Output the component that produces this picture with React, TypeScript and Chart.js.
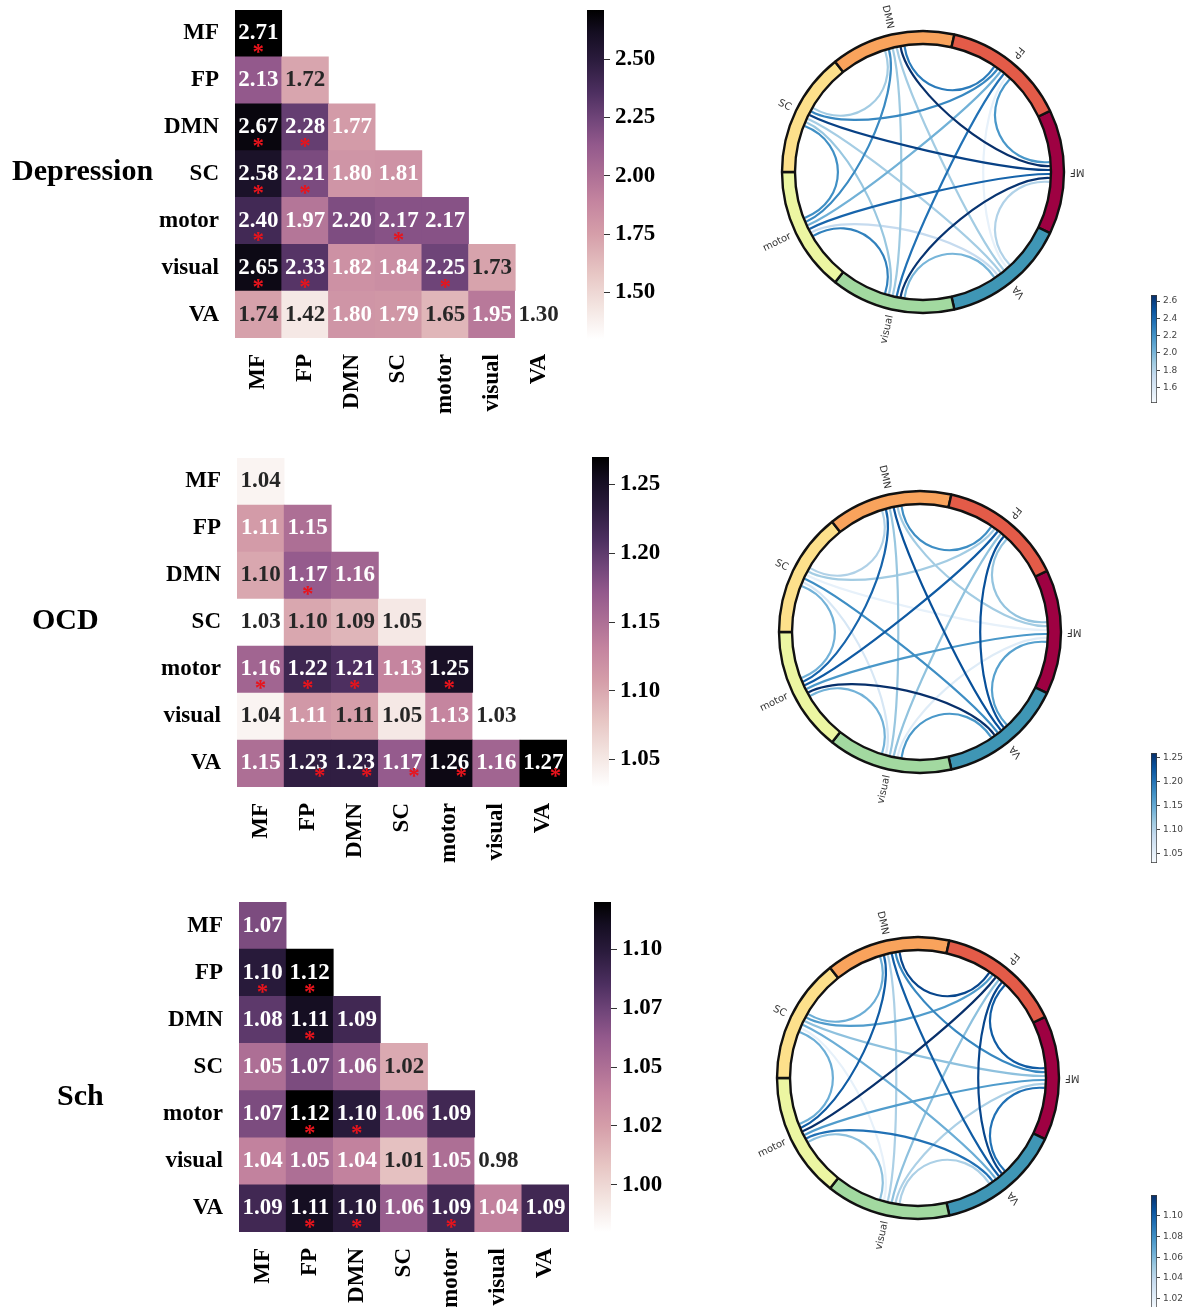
import React, { useEffect, useRef } from 'react';
import { Chart, registerables } from 'chart.js';

Chart.register(...registerables);

// ---------------- data ----------------
const networks = ['MF', 'FP', 'DMN', 'SC', 'motor', 'visual', 'VA'];
const groupTitles = ['Depression', 'OCD', 'Sch'];

const depressionValues = [
  [2.71],
  [2.13, 1.72],
  [2.67, 2.28, 1.77],
  [2.58, 2.21, 1.80, 1.81],
  [2.40, 1.97, 2.20, 2.17, 2.17],
  [2.65, 2.33, 1.82, 1.84, 2.25, 1.73],
  [1.74, 1.42, 1.80, 1.79, 1.65, 1.95, 1.30],
];
const depressionSignificant = [
  [1],
  [0, 0],
  [1, 1, 0],
  [1, 1, 0, 0],
  [1, 0, 0, 1, 0],
  [1, 1, 0, 0, 1, 0],
  [0, 0, 0, 0, 0, 0, 0],
];

const ocdValues = [
  [1.04],
  [1.11, 1.15],
  [1.10, 1.17, 1.16],
  [1.03, 1.10, 1.09, 1.05],
  [1.16, 1.22, 1.21, 1.13, 1.25],
  [1.04, 1.112, 1.107, 1.05, 1.13, 1.03],
  [1.15, 1.23, 1.23, 1.17, 1.26, 1.16, 1.27],
];
const ocdSignificant = [
  [0],
  [0, 0],
  [0, 1, 0],
  [0, 0, 0, 0],
  [1, 1, 1, 0, 1],
  [0, 0, 0, 0, 0, 0],
  [0, 1, 1, 1, 1, 0, 1],
];

const schValues = [
  [1.07],
  [1.10, 1.12],
  [1.08, 1.11, 1.09],
  [1.05, 1.07, 1.06, 1.02],
  [1.07, 1.12, 1.10, 1.06, 1.09],
  [1.04, 1.05, 1.04, 1.01, 1.05, 0.98],
  [1.09, 1.11, 1.10, 1.06, 1.09, 1.04, 1.09],
];
const schSignificant = [
  [0],
  [1, 1],
  [0, 1, 0],
  [0, 0, 0, 0],
  [0, 1, 1, 0, 0],
  [0, 0, 0, 0, 0, 0],
  [0, 1, 1, 0, 1, 0, 0],
];

const depressionHeatTicks = [1.5, 1.75, 2.0, 2.25, 2.5];
const depressionHeatTickLabels = ['1.50', '1.75', '2.00', '2.25', '2.50'];
const ocdHeatTicks = [1.05, 1.1, 1.15, 1.2, 1.25];
const ocdHeatTickLabels = ['1.05', '1.10', '1.15', '1.20', '1.25'];
const schHeatTicks = [1.0, 1.025, 1.05, 1.075, 1.1];
const schHeatTickLabels = ['1.00', '1.02', '1.05', '1.07', '1.10'];

const depressionChordTicks = [1.6, 1.8, 2.0, 2.2, 2.4, 2.6];
const depressionChordTickLabels = ['1.6', '1.8', '2.0', '2.2', '2.4', '2.6'];
const ocdChordTicks = [1.05, 1.1, 1.15, 1.2, 1.25];
const ocdChordTickLabels = ['1.05', '1.10', '1.15', '1.20', '1.25'];
const schChordTicks = [1.02, 1.04, 1.06, 1.08, 1.1];
const schChordTickLabels = ['1.02', '1.04', '1.06', '1.08', '1.10'];

// ---------------- styles ----------------
const serif = '"Liberation Serif", "Times New Roman", serif';
const sans = '"DejaVu Sans", sans-serif';
const networkColors = ['#9e0142', '#e35b48', '#f9a35c', '#fde08b', '#ecf6a2', '#a2d9a0', '#3f96b5'];

const heatStops: [number, string][] = [
  [0, '#ffffff'], [0.1, '#f3e4e0'], [0.2, '#e7c6c4'], [0.32, '#d59ea9'], [0.42, '#c4849f'],
  [0.5, '#ad6f95'], [0.59, '#93598c'], [0.67, '#704579'], [0.75, '#4d2f60'], [0.85, '#2a1b3c'],
  [0.93, '#150e22'], [1, '#000000'],
];
const bluesStops: [number, string][] = [
  [0, '#f7fbff'], [0.125, '#deebf7'], [0.25, '#c6dbef'], [0.375, '#9ecae1'], [0.5, '#6baed6'],
  [0.625, '#4292c6'], [0.75, '#2171b5'], [0.875, '#08519c'], [1, '#08306b'],
];

function hexRgb(h: string) {
  const n = parseInt(h.slice(1), 16);
  return [(n >> 16) & 255, (n >> 8) & 255, n & 255];
}
function sample(stops: [number, string][], t: number) {
  const x = Math.max(0, Math.min(1, t));
  for (let i = 1; i < stops.length; i++) {
    if (x <= stops[i][0]) {
      const [t0, c0] = stops[i - 1];
      const [t1, c1] = stops[i];
      const f = (x - t0) / (t1 - t0);
      const a = hexRgb(c0), b = hexRgb(c1);
      return `rgb(${Math.round(a[0] + (b[0] - a[0]) * f)},${Math.round(a[1] + (b[1] - a[1]) * f)},${Math.round(a[2] + (b[2] - a[2]) * f)})`;
    }
  }
  return stops[stops.length - 1][1];
}

function rangeOf(values: number[][], offDiagonal: boolean) {
  let mn = Infinity, mx = -Infinity;
  values.forEach((row, r) => row.forEach((v, c) => {
    if (offDiagonal && r === c) return;
    mn = Math.min(mn, v); mx = Math.max(mx, v);
  }));
  return [mn, mx];
}

function zeroPad(s: any) {
  s.paddingTop = 0; s.paddingBottom = 0; s.paddingLeft = 0; s.paddingRight = 0;
}

// ---------------- chart builders ----------------
function heatmapConfig(p: any) {
  const { values, significant, title, titleX, titleY, gridLeft, gridRight, gridTop, gridBottom, canvasTop, canvasWidth, canvasHeight, lastRowStar } = p;
  const cells: any[] = [];
  values.forEach((row: number[], r: number) => row.forEach((v, c) => cells.push({ r, c, v, sig: significant[r][c] === 1 })));
  const [vmin, vmax] = rangeOf(values, false);
  const frac = (v: number) => (v - vmin) / (vmax - vmin);
  const annotate = {
    id: 'annot',
    afterDatasetsDraw(chart: any) {
      const ctx = chart.ctx;
      const meta = chart.getDatasetMeta(0);
      ctx.save();
      ctx.textAlign = 'center';
      ctx.textBaseline = 'middle';
      meta.data.forEach((el: any, i: number) => {
        const cell = cells[i];
        const cx = el.x;
        const cy = (el.y + el.base) / 2;
        ctx.font = `bold 23px ${serif}`;
        ctx.fillStyle = frac(cell.v) > 0.325 ? '#ffffff' : '#262626';
        ctx.fillText(cell.v.toFixed(2), cx, cy);
        if (cell.sig) {
          const last = cell.r === networks.length - 1 && lastRowStar;
          ctx.fillStyle = '#e8141c';
          ctx.font = `bold 23px ${serif}`;
          ctx.fillText('*', cx + (last ? lastRowStar.dx : 0), cy + (last ? lastRowStar.dy : 20));
        }
      });
      ctx.restore();
    },
  };
  const titlePlugin = {
    id: 'groupTitle',
    afterDraw(chart: any) {
      const ctx = chart.ctx;
      ctx.save();
      ctx.font = `bold 30px ${serif}`;
      ctx.fillStyle = '#000';
      ctx.textAlign = 'left';
      ctx.textBaseline = 'middle';
      ctx.fillText(title, titleX, titleY - canvasTop);
      ctx.restore();
    },
  };
  const tickFont = { family: serif, size: 23, weight: 'bold' as const };
  return {
    type: 'bar',
    data: {
      labels: networks,
      datasets: [{
        data: cells.map((c) => ({ x: networks[c.c], y: [c.r - 0.5, c.r + 0.5] })),
        backgroundColor: cells.map((c) => sample(heatStops, frac(c.v))),
        borderWidth: 0,
        barPercentage: 1,
        categoryPercentage: 1,
        grouped: false,
      }],
    },
    options: {
      responsive: false,
      animation: false,
      layout: { padding: { left: 0, right: canvasWidth - gridRight, top: gridTop - canvasTop, bottom: 0 } },
      plugins: { legend: { display: false }, tooltip: { enabled: false } },
      scales: {
        x: {
          type: 'category',
          offset: true,
          grid: { display: false, drawTicks: false },
          border: { display: false },
          ticks: { autoSkip: false, minRotation: 90, maxRotation: 90, padding: 16, color: '#000', font: tickFont },
          afterFit: (s: any) => { s.height = canvasHeight - (gridBottom - canvasTop); zeroPad(s); },
        },
        y: {
          type: 'linear',
          reverse: true,
          min: -0.5,
          max: 6.5,
          grid: { display: false, drawTicks: false },
          border: { display: false },
          afterBuildTicks: (s: any) => { s.ticks = networks.map((_, i) => ({ value: i })); },
          ticks: { autoSkip: false, padding: 16, color: '#000', font: tickFont, callback: (v: any) => networks[v] ?? '' },
          afterFit: (s: any) => { s.width = gridLeft; zeroPad(s); },
        },
      },
    },
    plugins: [annotate, titlePlugin],
  };
}

function colorbarConfig(p: any) {
  const { vmin, vmax, ticks, tickLabels, stops, canvasWidth, barWidth, font, color, tickLength, tickPadding, outline, tickColor } = p;
  return {
    type: 'bar',
    data: {
      labels: [''],
      datasets: [{
        data: [[vmin, vmax]],
        backgroundColor: (ctx: any) => {
          const chart = ctx.chart;
          const y = chart.scales.y;
          if (!chart.chartArea || !y) return 'transparent';
          const top = y.getPixelForValue(vmax);
          const bottom = y.getPixelForValue(vmin);
          const g = chart.ctx.createLinearGradient(0, bottom, 0, top);
          stops.forEach(([t, c]: [number, string]) => g.addColorStop(t, c));
          return g;
        },
        borderColor: '#3a3a3a',
        borderWidth: outline ? 1 : 0,
        borderSkipped: false,
        barPercentage: 1,
        categoryPercentage: 1,
      }],
    },
    options: {
      responsive: false,
      animation: false,
      layout: { padding: { left: 5, right: 0, top: 10, bottom: 10 } },
      plugins: { legend: { display: false }, tooltip: { enabled: false } },
      scales: {
        x: { display: false },
        y: {
          position: 'right',
          min: vmin,
          max: vmax,
          afterBuildTicks: (s: any) => { s.ticks = ticks.map((v: number) => ({ value: v })); },
          afterFit: (s: any) => { s.width = canvasWidth - 5 - barWidth; zeroPad(s); },
          grid: { drawOnChartArea: false, drawTicks: true, tickLength, color: tickColor, lineWidth: 1 },
          border: { display: false },
          ticks: { autoSkip: false, padding: tickPadding, color, font, callback: (_v: any, i: number) => tickLabels[i] },
        },
      },
    },
  };
}

function chordConfig(p: any) {
  const { values, outerR, innerR } = p;
  const n = networks.length;
  const [cmin, cmax] = rangeOf(values, true);
  const chords: any[] = [];
  values.forEach((row: number[], r: number) => row.forEach((v, c) => { if (r !== c) chords.push({ a: r, b: c, v }); }));
  chords.sort((x, y) => x.v - y.v);
  const ringOrder = [0, 6, 5, 4, 3, 2, 1];
  const seg = 360 / n;
  const spread = 1.8;
  const ctrl = 0.62;
  const endAngle = (node: number, other: number) => {
    const k = (((other - node) % n) + n) % n;
    return ((node * seg + (3.5 - k) * spread) * Math.PI) / 180;
  };
  const plugin = {
    id: 'chords',
    beforeDatasetsDraw(chart: any) {
      const arc = chart.getDatasetMeta(0).data[0];
      const cx = arc.x, cy = arc.y, rIn = arc.innerRadius;
      const ctx = chart.ctx;
      const pt = (t: number, r: number) => [cx + r * Math.cos(t), cy - r * Math.sin(t)];
      ctx.save();
      ctx.lineWidth = 2.2;
      chords.forEach((ch) => {
        const ta = endAngle(ch.a, ch.b), tb = endAngle(ch.b, ch.a);
        const A = pt(ta, rIn - 1), B = pt(tb, rIn - 1), C1 = pt(ta, rIn * ctrl), C2 = pt(tb, rIn * ctrl);
        ctx.strokeStyle = sample(bluesStops, 0.08 + 0.92 * (ch.v - cmin) / (cmax - cmin));
        ctx.beginPath();
        ctx.moveTo(A[0], A[1]);
        ctx.bezierCurveTo(C1[0], C1[1], C2[0], C2[1], B[0], B[1]);
        ctx.stroke();
      });
      ctx.restore();
    },
    afterDraw(chart: any) {
      const arc = chart.getDatasetMeta(0).data[0];
      const cx = arc.x, cy = arc.y, rOut = arc.outerRadius;
      const ctx = chart.ctx;
      ctx.save();
      ctx.font = `10px ${sans}`;
      ctx.fillStyle = '#333';
      ctx.textAlign = 'right';
      ctx.textBaseline = 'middle';
      networks.forEach((name, i) => {
        const t = (i * seg * Math.PI) / 180;
        const x = cx + (rOut + 6) * Math.cos(t);
        const y = cy - (rOut + 6) * Math.sin(t);
        ctx.save();
        ctx.translate(x, y);
        ctx.rotate(Math.atan2(Math.sin(t), -Math.cos(t)));
        ctx.fillText(name, 0, 0);
        ctx.restore();
      });
      ctx.restore();
    },
  };
  return {
    type: 'doughnut',
    data: {
      labels: ringOrder.map((i) => networks[i]),
      datasets: [{
        data: ringOrder.map(() => 1),
        backgroundColor: ringOrder.map((i) => networkColors[i]),
        borderColor: '#111',
        borderWidth: 2.4,
        hoverOffset: 0,
      }],
    },
    options: {
      responsive: false,
      animation: false,
      rotation: 90 - 180 / n,
      radius: outerR,
      cutout: `${(innerR / outerR) * 100}%`,
      layout: { padding: 0 },
      plugins: { legend: { display: false }, tooltip: { enabled: false } },
    },
    plugins: [plugin],
  };
}

// ---------------- components ----------------
function ChartCanvas({ left, top, width, height, build }: any) {
  const ref = useRef<HTMLCanvasElement>(null);
  useEffect(() => {
    const chart = new Chart(ref.current as HTMLCanvasElement, build());
    return () => chart.destroy();
  }, []);
  return <canvas ref={ref} width={width} height={height} style={{ position: 'absolute', left, top, width, height }} />;
}

const groups = [
  {
    title: groupTitles[0], values: depressionValues, significant: depressionSignificant,
    heatTicks: depressionHeatTicks, heatTickLabels: depressionHeatTickLabels,
    chordTicks: depressionChordTicks, chordTickLabels: depressionChordTickLabels,
    layout: { titleX: 12, titleY: 172, gridLeft: 235, gridRight: 562, gridTop: 10, gridBottom: 338,
      cbLeft: 587, cbTop: 10, cbBottom: 339, cx: 923, cy: 172, ccTop: 295, ccBottom: 403, lastRowStar: null },
  },
  {
    title: groupTitles[1], values: ocdValues, significant: ocdSignificant,
    heatTicks: ocdHeatTicks, heatTickLabels: ocdHeatTickLabels,
    chordTicks: ocdChordTicks, chordTickLabels: ocdChordTickLabels,
    layout: { titleX: 32, titleY: 621, gridLeft: 237, gridRight: 567, gridTop: 458, gridBottom: 787,
      cbLeft: 592, cbTop: 457, cbBottom: 787, cx: 920, cy: 632, ccTop: 753, ccBottom: 863, lastRowStar: { dx: 12, dy: 14 } },
  },
  {
    title: groupTitles[2], values: schValues, significant: schSignificant,
    heatTicks: schHeatTicks, heatTickLabels: schHeatTickLabels,
    chordTicks: schChordTicks, chordTickLabels: schChordTickLabels,
    layout: { titleX: 57, titleY: 1097, gridLeft: 239, gridRight: 569, gridTop: 902, gridBottom: 1232,
      cbLeft: 594, cbTop: 902, cbBottom: 1232, cx: 918, cy: 1078, ccTop: 1195, ccBottom: 1309, lastRowStar: null },
  },
];

export default function App() {
  const items: any[] = [];
  groups.forEach((g, gi) => {
    const L = g.layout;
    const canvasTop = L.gridTop - 10;
    const heatW = L.gridRight + 18;
    const heatH = 430;
    const [hmin, hmax] = rangeOf(g.values, false);
    const [cmin, cmax] = rangeOf(g.values, true);
    items.push(
      <ChartCanvas key={`h${gi}`} left={0} top={canvasTop} width={heatW} height={heatH}
        build={() => heatmapConfig({ values: g.values, significant: g.significant, title: g.title,
          titleX: L.titleX, titleY: L.titleY, gridLeft: L.gridLeft, gridRight: L.gridRight, gridTop: L.gridTop,
          gridBottom: L.gridBottom, canvasTop, canvasWidth: heatW, canvasHeight: heatH, lastRowStar: L.lastRowStar })} />
    );
    items.push(
      <ChartCanvas key={`cb${gi}`} left={L.cbLeft - 5} top={L.cbTop - 10} width={100} height={L.cbBottom - L.cbTop + 20}
        build={() => colorbarConfig({ vmin: hmin, vmax: hmax, ticks: g.heatTicks, tickLabels: g.heatTickLabels,
          stops: heatStops, canvasWidth: 100, barWidth: 17, font: { family: serif, size: 23, weight: 'bold' },
          color: '#000', tickLength: 6, tickPadding: 5, outline: false, tickColor: '#333' })} />
    );
    items.push(
      <ChartCanvas key={`c${gi}`} left={L.cx - 200} top={L.cy - 200} width={400} height={400}
        build={() => chordConfig({ values: g.values, outerR: 141, innerR: 128 })} />
    );
    items.push(
      <ChartCanvas key={`cc${gi}`} left={1146} top={L.ccTop - 10} width={45} height={L.ccBottom - L.ccTop + 20}
        build={() => colorbarConfig({ vmin: cmin, vmax: cmax, ticks: g.chordTicks, tickLabels: g.chordTickLabels,
          stops: bluesStops, canvasWidth: 45, barWidth: 6, font: { family: sans, size: 9 },
          color: '#444', tickLength: 3, tickPadding: 3, outline: true, tickColor: '#444' })} />
    );
  });
  return (
    <div style={{ position: 'absolute', left: 0, top: 0, width: 1191, height: 1307, overflow: 'hidden', background: '#fff' }}>
      {items}
    </div>
  );
}
